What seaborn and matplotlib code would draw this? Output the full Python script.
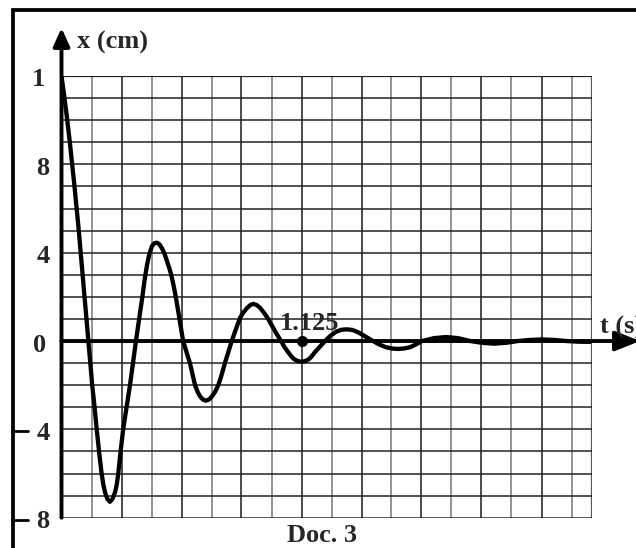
import numpy as np
import pandas as pd
import matplotlib.pyplot as plt
import seaborn as sns
from matplotlib.lines import Line2D

# values (t in s, x in cm)
t_s = [0.000, 0.014, 0.027, 0.039, 0.050, 0.061, 0.071, 0.081, 0.090, 0.099,
       0.108, 0.117, 0.126, 0.135, 0.144, 0.155, 0.165, 0.176, 0.188, 0.196,
       0.204, 0.215, 0.227, 0.239, 0.251, 0.259, 0.266, 0.277, 0.289, 0.305,
       0.321, 0.335, 0.349, 0.364, 0.379, 0.390, 0.401, 0.412, 0.424, 0.436,
       0.448, 0.459, 0.471, 0.483, 0.495, 0.507, 0.518, 0.530, 0.541, 0.555,
       0.570, 0.586, 0.602, 0.614, 0.626, 0.638, 0.649, 0.663, 0.677, 0.691,
       0.706, 0.720, 0.735, 0.750, 0.766, 0.782, 0.798, 0.818, 0.837, 0.853,
       0.870, 0.885, 0.899, 0.915, 0.931, 0.950, 0.969, 0.985, 1.001, 1.015,
       1.029, 1.045, 1.062, 1.076, 1.090, 1.108, 1.125, 1.142, 1.160, 1.174,
       1.188, 1.212, 1.235, 1.261, 1.287, 1.312, 1.338, 1.364, 1.390, 1.425,
       1.460, 1.490, 1.521, 1.549, 1.577, 1.605, 1.634, 1.662, 1.690, 1.746,
       1.802, 1.859, 1.915, 1.971, 2.027, 2.084, 2.140, 2.196, 2.252, 2.309,
       2.365, 2.421, 2.477]
x_cm = [12.0, 11.0, 10.0, 9.0, 8.0, 7.0, 6.0, 5.0, 4.0, 3.0,
        2.0, 1.0, 0.0, -1.0, -2.0, -3.0, -4.0, -5.0, -6.0, -6.5,
        -6.85, -7.15, -7.28, -7.15, -6.85, -6.5, -6.0, -5.0, -4.0, -3.0,
        -2.0, -1.0, 0.0, 1.0, 2.0, 2.8, 3.45, 3.95, 4.3, 4.43,
        4.45, 4.38, 4.2, 3.95, 3.6, 3.25, 2.85, 2.3, 1.7, 0.88,
        0.0, -0.5, -1.0, -1.5, -2.0, -2.3, -2.5, -2.65, -2.7, -2.65,
        -2.5, -2.3, -2.0, -1.55, -1.0, -0.5, 0.0, 0.55, 1.05, 1.3,
        1.5, 1.63, 1.68, 1.63, 1.5, 1.27, 1.0, 0.72, 0.45, 0.22,
        0.0, -0.27, -0.5, -0.68, -0.82, -0.91, -0.94, -0.91, -0.82, -0.68,
        -0.5, -0.25, 0.0, 0.24, 0.42, 0.51, 0.53, 0.5, 0.4, 0.2,
        0.0, -0.16, -0.28, -0.34, -0.36, -0.34, -0.28, -0.15, 0.0, 0.13,
        0.18, 0.13, 0.0, -0.08, -0.12, -0.08, 0.0, 0.05, 0.07, 0.05,
        0.0, -0.03, -0.04]
mark_t = [1.125]
mark_x = [0.0]
mark_label = "1.125"
ytick_vals = [12, 8, 4, 0, -4, -8]
ytick_text = ["1", "8", "4", "0", "4", "8"]
grid_step = 0.140625

sns.set_theme(style="white")
plt.rcParams['font.family'] = ['Liberation Serif', 'DejaVu Serif']
plt.rcParams['font.weight'] = 'bold'

W, H = 636, 548
fig = plt.figure(figsize=(W / 100, H / 100), dpi=100)
fig.patch.set_facecolor('white')

def fx(px):
    return px / W

def fy(py):
    return 1 - py / H

# grid area in pixels: left 61.5, right 592, top 76, bottom 517.7
x_left, x_right, y_top, y_bot = 61.5, 592, 76, 517.7
ax = fig.add_axes([fx(x_left), fy(y_bot), fx(x_right - x_left), (y_bot - y_top) / H])
t_max = (x_right - x_left) / 30 * grid_step
ax.set_xlim(0, t_max)
ax.set_ylim(-8, 12)
ax.axis('off')

# grid
for k in range(1, 18):
    c = '#777777' if k % 2 == 1 else '#1a1a1a'
    ax.axvline(k * grid_step, color=c, lw=1.1, zorder=1)
ax.axvline(t_max, color='#555555', lw=1.6, zorder=1)
for v in range(-7, 12):
    ax.axhline(v, color='#222222', lw=1.1, zorder=1)
ax.axhline(12, color='#222222', lw=1.6, zorder=1)
ax.axhline(-8, color='#222222', lw=1.8, zorder=1)

# curve
df = pd.DataFrame({'t': t_s, 'x': x_cm})
sns.lineplot(data=df, x='t', y='x', ax=ax, color='black', lw=3.1,
             estimator=None, sort=False, zorder=4,
             solid_joinstyle='round', solid_capstyle='round')

# axes with arrows
px_per_unit = (y_bot - y_top) / 20
y_tip = (341 - 28) / px_per_unit
t_tip = (640 - x_left) / 30 * grid_step
ax.annotate('', xy=(0, y_tip), xytext=(0, -8), annotation_clip=False, zorder=5,
            arrowprops=dict(arrowstyle='-|>,head_length=0.55,head_width=0.25',
                            mutation_scale=20, lw=2.8, color='black',
                            shrinkA=0, shrinkB=0))
ax.annotate('', xy=(t_tip, 0), xytext=(0, 0), annotation_clip=False, zorder=5,
            arrowprops=dict(arrowstyle='-|>,head_length=0.75,head_width=0.3',
                            mutation_scale=20, lw=2.8, color='black',
                            shrinkA=0, shrinkB=0))

# marked point
sns.scatterplot(x=mark_t, y=mark_x, ax=ax, color='black', s=55, zorder=6,
                edgecolor='black', legend=False)
ax.text(mark_t[0] + 0.04, mark_x[0] + 0.25, mark_label, fontsize=19,
        fontweight='bold', ha='center', va='bottom', zorder=6)

# y labels
label_px = [38, 43, 43, 40, 43, 43]
for val, txt, lx in zip(ytick_vals, ytick_text, label_px):
    py = 341 - val * px_per_unit + 4
    fig.text(fx(lx), fy(py), txt, fontsize=19, fontweight='bold',
             ha='center', va='center')
    if val < 0:
        fig.add_artist(Line2D([fx(12), fx(28)], [fy(py - 2), fy(py - 2)],
                              transform=fig.transFigure, color='black', lw=2.0))

# axis names and caption
fig.text(fx(77), fy(42), 'x (cm)', fontsize=19, fontweight='bold', ha='left', va='center')
fig.text(fx(600), fy(334), 't (s)', fontsize=19, fontweight='bold', ha='left', va='baseline')
fig.text(fx(322), fy(536), 'Doc. 3', fontsize=19, fontweight='bold', ha='center', va='center')

# frame
fig.add_artist(Line2D([fx(13.3), fx(13.3), fx(650)], [fy(560), fy(10), fy(10)],
                      transform=fig.transFigure, color='black', lw=2.7,
                      solid_joinstyle='miter'))

fig.savefig('out.png', dpi=100)
